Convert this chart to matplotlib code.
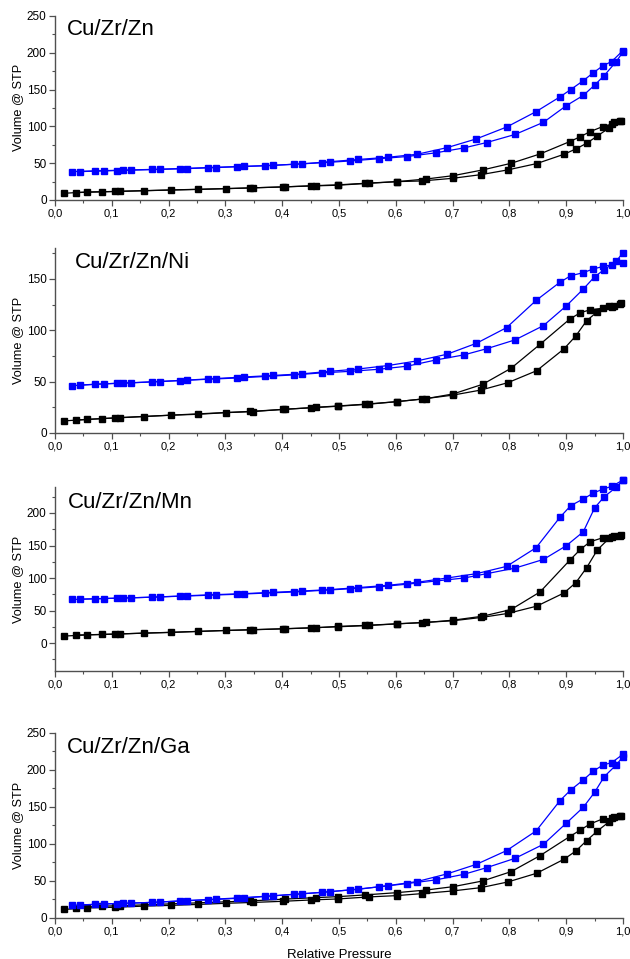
import numpy as np
import matplotlib.pyplot as plt
from matplotlib.ticker import MultipleLocator, FuncFormatter

# Relative pressure points (adsorption / desorption branches)
blue_ads_p = [0.03, 0.07, 0.12, 0.17, 0.22, 0.27, 0.32, 0.37, 0.42, 0.47, 0.52, 0.57,
              0.62, 0.67, 0.72, 0.76, 0.81, 0.86, 0.90, 0.93, 0.95, 0.967, 0.988, 1.0]
blue_des_p = [1.0, 0.98, 0.965, 0.948, 0.93, 0.908, 0.889, 0.847, 0.795, 0.742, 0.69, 0.637,
              0.586, 0.534, 0.484, 0.434, 0.384, 0.333, 0.283, 0.233, 0.184, 0.134, 0.109, 0.087, 0.044]
black_ads_p = [0.015, 0.057, 0.106, 0.157, 0.204, 0.252, 0.301, 0.349, 0.401, 0.45, 0.498, 0.552,
               0.602, 0.646, 0.70, 0.75, 0.797, 0.848, 0.896, 0.917, 0.936, 0.955, 0.976, 0.995]
black_des_p = [0.997, 0.985, 0.98, 0.964, 0.942, 0.925, 0.906, 0.854, 0.803, 0.753, 0.701, 0.654,
               0.602, 0.545, 0.498, 0.46, 0.405, 0.343, 0.114, 0.083, 0.037]

# Cu/Zr/Zn
zn_blue_ads = [38.5, 39.5, 40.5, 41.5, 42.6, 44, 45.3, 46.5, 48.5, 50.5, 53, 56,
               59, 64, 70.7, 78, 89, 105.5, 128, 142, 156, 169, 188, 201]
zn_blue_des = [203, 188, 182.5, 173, 162, 150, 140, 120, 99, 83, 71, 62,
               58, 55, 52, 49, 47, 45.5, 44, 42.6, 41.5, 40.5, 40, 39.5, 38.5]
zn_black_ads = [9, 10.9, 11.5, 12.5, 13.5, 14.3, 15.3, 16.5, 17.7, 19, 20, 22.6,
                24.9, 25.8, 29.4, 34.4, 40.8, 49.4, 62, 69.3, 77, 87, 98, 107]
zn_black_des = [107.8, 105.5, 103, 99.6, 92.8, 86, 79.2, 62.5, 49.8, 40.8, 33, 28.5,
                24.9, 22.6, 20.5, 19.5, 17.8, 16.3, 11.8, 11, 10]

# Cu/Zr/Zn/Ni
ni_blue_ads = [46, 47.5, 48.5, 49.8, 51, 52.3, 53.5, 55, 56.5, 58.5, 60, 62,
               65, 71, 76, 82, 90.6, 104.5, 123.6, 140, 152, 159, 167, 175.6]
ni_blue_des = [165, 163.6, 162, 159.7, 156, 153, 146.7, 129, 102.5, 87.3, 76.6, 70.1,
               65.6, 62.3, 60, 57.5, 56, 54.5, 53, 51.5, 50, 48.8, 48.4, 47.8, 46.5]
ni_black_ads = [11.7, 13.3, 14.6, 16, 17.3, 18.2, 19.8, 20.8, 23, 24.5, 26, 28,
                30.5, 33, 36.8, 41.8, 48.9, 60.6, 81.8, 94.5, 109.3, 118, 123.5, 125.6]
ni_black_des = [126, 124, 123, 121.4, 119.8, 117.1, 110.7, 86.3, 63, 47.4, 38, 33.5,
                30.5, 28, 26.3, 25, 23, 21, 15, 14, 12.5]

# Cu/Zr/Zn/Mn
mn_blue_ads = [67, 68, 69.3, 70.5, 72, 73.5, 75, 76.8, 78.5, 81, 83.5, 86.5,
               90.5, 95.4, 100, 106.7, 115.3, 128.6, 149.6, 171, 207.8, 225.1, 239.4, 250.7]
mn_blue_des = [250.7, 240.9, 236.9, 230.7, 221.6, 211.3, 193.4, 146.6, 117.9, 106.7, 100, 93.4,
               88.8, 85.3, 82.2, 80, 78, 76, 74.5, 72.8, 71, 69.5, 69, 68.5, 67.5]
mn_black_ads = [10.7, 12.5, 13.8, 15.3, 16.3, 17.9, 19.4, 20.4, 21.9, 23.5, 25, 27,
                29.5, 31.5, 34.2, 39.3, 45.5, 56.7, 77, 92.9, 115.9, 143.5, 161.3, 165]
mn_black_des = [165.5, 164, 162.8, 161.8, 155.7, 144, 127.1, 78.6, 51.6, 41.3, 35.2, 31.7,
                29.6, 27.1, 25.6, 23.5, 22, 20.5, 14, 13.3, 12.3]

# Cu/Zr/Zn/Ga
ga_blue_ads = [17, 18.5, 19.8, 21, 23, 24.5, 26.5, 29, 32, 34.5, 38, 42,
               46.5, 51.4, 59, 68, 80.6, 99.6, 128, 149.5, 169.8, 191, 206.8, 218]
ga_blue_des = [221.2, 209.9, 206.8, 198.6, 186.5, 173, 158.5, 117.6, 91, 72.5, 59.5, 49.1,
               43.7, 38.7, 35.6, 32.5, 30, 27.5, 25.5, 23.5, 21.5, 20, 19.5, 18.8, 17.5]
ga_black_ads = [11.5, 13.5, 14.5, 16, 17, 18.3, 19.8, 21, 22.5, 24.3, 25.7, 28.4,
                30.2, 32.9, 36.5, 41, 48.6, 60.4, 79.3, 90.5, 104.5, 117.6, 130.2, 137.8]
ga_black_des = [138.3, 136.9, 134.7, 133.8, 127, 118.9, 109.9, 84.2, 62.6, 50, 42.3, 37.8,
                34.2, 31.1, 28.8, 27.5, 25.5, 23, 16.5, 16, 14]

names = ["Cu/Zr/Zn", "Cu/Zr/Zn/Ni", "Cu/Zr/Zn/Mn", "Cu/Zr/Zn/Ga"]
blue_ads = [zn_blue_ads, ni_blue_ads, mn_blue_ads, ga_blue_ads]
blue_des = [zn_blue_des, ni_blue_des, mn_blue_des, ga_blue_des]
black_ads = [zn_black_ads, ni_black_ads, mn_black_ads, ga_black_ads]
black_des = [zn_black_des, ni_black_des, mn_black_des, ga_black_des]
ylims = [(0, 250), (0, 180), (-43, 240), (0, 250)]
yticks = [[0, 50, 100, 150, 200, 250], [0, 50, 100, 150], [0, 50, 100, 150, 200],
          [0, 50, 100, 150, 200, 250]]

# axes boxes in figure fraction: left, bottom, width, height
boxes = [(0.0873, 0.7915, 0.9016, 0.1919),
         (0.0873, 0.5485, 0.9016, 0.1929),
         (0.0873, 0.3003, 0.9016, 0.1919),
         (0.0873, 0.0428, 0.9016, 0.1929)]
title_pos = [(0.021, 0.924), (0.035, 0.919), (0.023, 0.918), (0.021, 0.924)]

plt.rcParams['font.family'] = ['Liberation Sans', 'DejaVu Sans']
fig = plt.figure(figsize=(6.3, 9.59), dpi=100)

spine_col = '#505050'
comma = FuncFormatter(lambda v, pos: f"{v:.1f}".replace('.', ','))

for i in range(4):
    ax = fig.add_axes(boxes[i])
    for p, v in ((black_ads_p, black_ads[i]), (black_des_p, black_des[i])):
        ax.plot(p, v, color='black', lw=0.9, marker='s', ms=5, clip_on=False, zorder=3)
    for p, v in ((blue_ads_p, blue_ads[i]), (blue_des_p, blue_des[i])):
        ax.plot(p, v, color='#0000ff', lw=0.9, marker='s', ms=5, clip_on=False, zorder=4)

    ax.set_xlim(0, 1.0)
    ax.set_ylim(*ylims[i])
    ax.set_xticks(np.arange(0, 1.01, 0.1))
    ax.xaxis.set_major_formatter(comma)
    ax.xaxis.set_minor_locator(MultipleLocator(0.05))
    ax.set_yticks(yticks[i])
    ax.yaxis.set_minor_locator(MultipleLocator(25))
    ax.spines['top'].set_visible(False)
    ax.spines['right'].set_visible(False)
    for s in ('left', 'bottom'):
        ax.spines[s].set_color(spine_col)
        ax.spines[s].set_linewidth(1.0)
    ax.tick_params(which='major', direction='out', length=4, width=0.9, color=spine_col, pad=2)
    ax.tick_params(axis='x', labelsize=8)
    ax.tick_params(axis='y', labelsize=8.5)
    ax.tick_params(which='minor', direction='out', length=2.5, width=0.8, color=spine_col)
    ax.set_ylabel('Volume @ STP', fontsize=9.2, labelpad=2)
    ax.text(title_pos[i][0], title_pos[i][1], names[i], transform=ax.transAxes,
            fontsize=16, va='center', ha='left')
    if i == 3:
        ax.set_xlabel('Relative Pressure', fontsize=9.5, labelpad=9)

fig.savefig('out.png', dpi=100)
